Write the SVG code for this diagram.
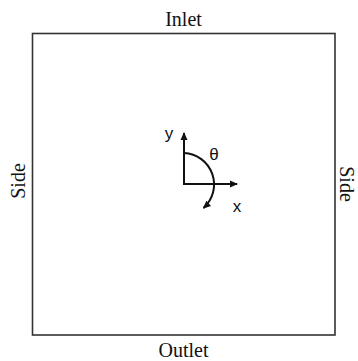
<svg xmlns="http://www.w3.org/2000/svg" width="358" height="361" viewBox="0 0 358 361">
<style>
.serif{font-family:"Liberation Serif","Times New Roman",serif;font-size:20px;fill:#111;text-anchor:middle}
.sans{font-family:"Liberation Sans",Arial,sans-serif;font-size:17px;fill:#111;text-anchor:middle}
.ln{stroke:#111;stroke-width:2;fill:none}
</style>
<defs>
<marker id="ah" markerWidth="8" markerHeight="8" refX="7" refY="4" orient="auto" markerUnits="userSpaceOnUse">
<path d="M0,0.5 L8,4 L0,7.5 Z" fill="#111"/>
</marker>
</defs>
<g id="domain">
<rect x="32.5" y="33.5" width="302.5" height="301.5" fill="none" stroke="#333" stroke-width="1.6"/>
</g>
<g id="labels">
<text class="serif" x="183.5" y="26">Inlet</text>
<text class="serif" x="183.5" y="357">Outlet</text>
<text class="serif" transform="translate(25,181) rotate(-90)">Side</text>
<text class="serif" transform="translate(340,184) rotate(90)">Side</text>
</g>
<g id="connectors">
<line class="ln" x1="184" y1="185" x2="184" y2="133" marker-end="url(#ah)"/>
<line class="ln" x1="183" y1="184" x2="237" y2="184" marker-end="url(#ah)"/>
<path class="ln" d="M184,153 A31.5,31.5 0 0 1 203.5,208" marker-end="url(#ah)"/>
</g>
<g id="axis-labels">
<text class="sans" x="169" y="139">y</text>
<text class="sans" x="214" y="160">θ</text>
<text class="sans" x="237" y="212">x</text>
</g>
</svg>
